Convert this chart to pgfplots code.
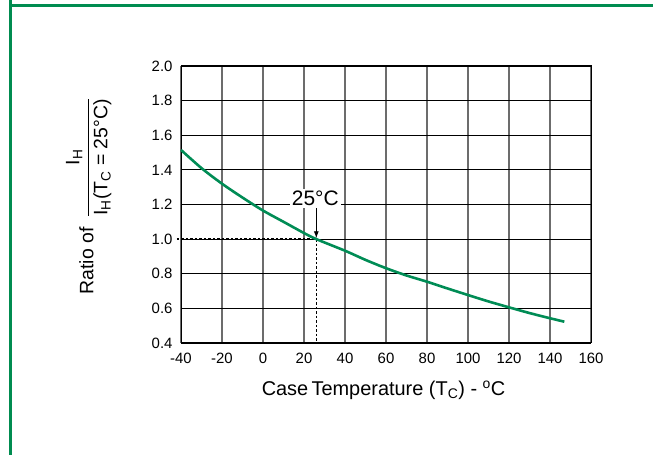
\documentclass[border=0pt]{standalone}
\usepackage{pgfplots}
\pgfplotsset{compat=1.18}
\usetikzlibrary{arrows.meta}
\usepackage{fontspec}
\setmainfont{Liberation Sans}
\definecolor{frameg}{RGB}{0,140,80}
\definecolor{curveg}{RGB}{0,140,85}
\begin{document}
\begin{tikzpicture}[x=1bp,y=1bp]
\path[use as bounding box] (0,0) rectangle (653,455);
\draw[frameg,line width=2.2bp] (10.5,470) -- (10.5,449.5) -- (660,449.5);
\draw[frameg,line width=2.2bp] (10.5,449.5) -- (10.5,-10);
\begin{axis}[
  at={(181bp,112bp)}, anchor=south west,
  scale only axis, width=410bp, height=277bp,
  xmin=-40, xmax=160, ymin=0.4, ymax=2.0,
  xtick={-40,-20,...,160}, ytick={0.4,0.6,...,2.01},
  major tick length=0pt,
  grid=major,
  x grid style={gray!85!black,line width=1.3bp},
  y grid style={black,line width=0.9bp},
  axis line style={black,line width=1bp},
  /pgf/number format/assume math mode=true,
  yticklabel style={/pgf/number format/fixed,/pgf/number format/fixed zerofill,/pgf/number format/precision=1,font=\fontsize{15}{17}\selectfont,xshift=-5bp},
  xticklabel style={font=\fontsize{15}{17}\selectfont,yshift=-7bp},
  xlabel={Case\,Temperature (T\textsubscript{C}) - \textsuperscript{o}C},
  xlabel style={font=\fontsize{20}{24}\selectfont,at={(axis description cs:0.494,-0.17)},anchor=center},
  ylabel={Ratio of\ \ $\displaystyle\frac{\mbox{I\textsubscript{H}}}{\mbox{I\textsubscript{H}(T\textsubscript{C} = 25°C)}}$},
  ylabel style={font=\fontsize{19.5}{22}\selectfont,at={(axis description cs:-0.225,0.53)},anchor=center},
  clip=false,
]
\addplot[black,line width=1.3bp,dash pattern=on 2.5bp off 2bp] coordinates {(-42,1.0) (26,1.0) (26,0.4)};
\addplot[curveg,line width=2.6bp,smooth] coordinates {
(-40,1.515) (-30,1.41) (-20,1.32) (-10,1.24) (0,1.165) (10,1.10) (20,1.035) (26,1.0)
(40,0.933) (50,0.88) (60,0.832) (70,0.79) (80,0.754) (90,0.715) (100,0.677)
(110,0.64) (120,0.606) (130,0.573) (140,0.543) (147,0.523)};
\addplot[black,line width=0.9bp,-{Latex[length=7bp,width=5bp]}] coordinates {(26,1.19) (26,1.005)};
\node[fill=white,inner sep=2bp,font=\fontsize{21}{25}\selectfont] at (axis cs:25.5,1.235) {25°C};
\end{axis}
\end{tikzpicture}
\end{document}
